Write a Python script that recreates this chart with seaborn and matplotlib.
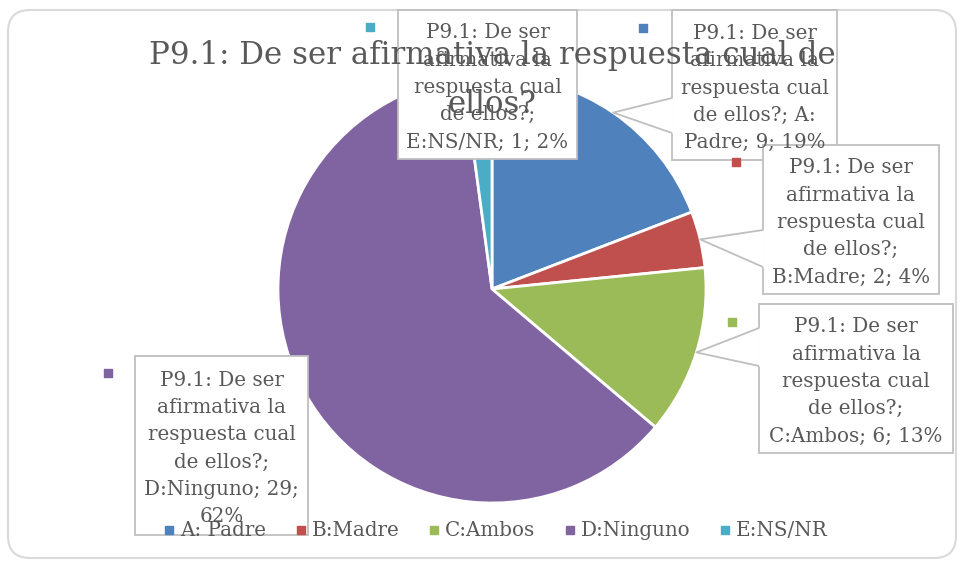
import textwrap

import matplotlib.pyplot as plt
import seaborn as sns
from matplotlib.lines import Line2D
from matplotlib.patches import FancyBboxPatch, Rectangle
import numpy as np

# Chart data
question = "P9.1: De ser afirmativa la respuesta cual de ellos?"
categories = ["A: Padre", "B:Madre", "C:Ambos", "D:Ninguno", "E:NS/NR"]
counts = [9, 2, 6, 29, 1]
colors = ["#4F81BD", "#C0504D", "#9BBB59", "#8064A2", "#4BACC6"]

# Layout (pixels, y down)
W, H = 963, 565
TEXT = "#595959"
EDGE = "#BFBFBF"
center = (492, 289)
radius = 214
# label boxes: left, top, right, bottom
label_boxes = [(672, 10, 837, 160), (763, 145, 939, 294), (759, 304, 953, 453),
               (135, 356, 308, 535), (398, 10, 577, 159)]
# callout base on the box's left edge (None = hidden behind box)
callout_base = [(672, 98, 133), (763, 230, 267), (759, 328, 366), None, None]
key_pos = [(643, 28), (736, 162), (732, 322), (108, 373), (370, 27)]


def main():
    sns.set_theme(style="white")
    plt.rcParams["font.family"] = ["DejaVu Serif"]

    fig = plt.figure(figsize=(W / 100, H / 100), dpi=100)
    ax = fig.add_axes([0, 0, 1, 1])

    # Pie, clockwise from 12 o'clock (y axis inverted below)
    wedges, _ = ax.pie(
        counts,
        colors=colors,
        startangle=-90,
        counterclock=True,
        center=center,
        radius=radius,
        frame=True,
        wedgeprops=dict(edgecolor="white", linewidth=2),
    )
    ax.set_xlim(0, W)
    ax.set_ylim(H, 0)
    ax.set_aspect("equal")
    ax.axis("off")

    # Outer chart border
    ax.add_patch(FancyBboxPatch((8, 10), 948, 548, boxstyle="round,pad=0,rounding_size=22",
                                facecolor="none", edgecolor="#D9D9D9", linewidth=1.5, zorder=0))

    total = sum(counts)
    for i, (w, cat, n) in enumerate(zip(wedges, categories, counts)):
        pct = round(n / total * 100)
        label = textwrap.fill(f"{question}; {cat}; {n}; {pct}%", width=15)
        left, top, right, bottom = label_boxes[i]
        ax.add_patch(Rectangle((left, top), right - left, bottom - top, facecolor="white",
                               edgecolor=EDGE, linewidth=1.3, zorder=3))
        if callout_base[i] is not None:
            bx, y1, y2 = callout_base[i]
            mid = np.deg2rad((w.theta1 + w.theta2) / 2)
            tx = center[0] + radius * np.cos(mid)
            ty = center[1] + radius * np.sin(mid)
            ax.fill([bx, tx, bx], [y1, ty, y2], color="white", zorder=3.5)
            ax.plot([bx, tx, bx], [y1, ty, y2], color=EDGE, linewidth=1.3, zorder=3.6)
            ax.plot([bx + 1, bx + 1], [y1 + 1, y2 - 1], color="white", linewidth=2, zorder=3.6)
        ax.text((left + right) / 2, (top + bottom) / 2 + 3, label, ha="center", va="center",
                fontsize=14.3, color=TEXT, linespacing=1.56, zorder=4)
        ax.scatter(*key_pos[i], marker="s", s=40, color=colors[i], zorder=4)

    # Title (baseline of the last line)
    ax.text(492, 113, "P9.1: De ser afirmativa la respuesta cual de\nellos?", ha="center",
            va="baseline", fontsize=22.2, color=TEXT, linespacing=1.76, zorder=5)

    # Legend
    handles = [Line2D([], [], marker="s", linestyle="", color=c, markersize=6) for c in colors]
    leg = fig.legend(handles, categories, loc="center", bbox_to_anchor=(496 / W, 1 - 531 / H),
                     ncol=5, frameon=False, fontsize=14.3, handlelength=0.5,
                     handletextpad=0.3, columnspacing=1.5, borderpad=0)
    for t in leg.get_texts():
        t.set_color(TEXT)
    leg.set_zorder(6)

    fig.savefig("out.png", dpi=100)
    plt.close(fig)


if __name__ == "__main__":
    main()
